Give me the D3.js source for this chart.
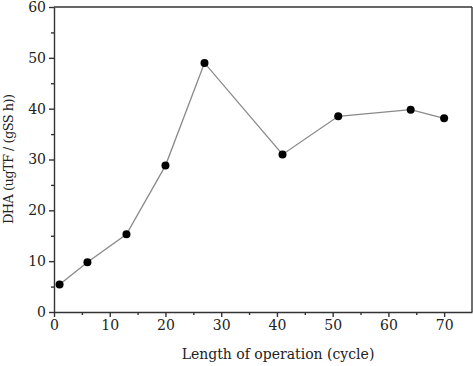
<!DOCTYPE html>
<html>
<head>
<meta charset="utf-8">
<script src="https://cdn.jsdelivr.net/npm/d3@7"></script>
<style>
  body { margin: 0; background: #fff; }
  text { font-family: "DejaVu Serif", serif; fill: #222; }
</style>
</head>
<body>
<div id="chart"></div>
<script>
// Data
const cycles = [1, 6, 13, 20, 27, 41, 51, 64, 70];
const dha = [5.4, 9.8, 15.3, 28.8, 49.0, 31.0, 38.5, 39.8, 38.1];
const xTicks = [0, 10, 20, 30, 40, 50, 60, 70];
const yTicks = [0, 10, 20, 30, 40, 50, 60];

const W = 473, H = 366;
const margin = { top: 7, right: 1, bottom: 54, left: 54 };
const width = W - margin.left - margin.right;
const height = H - margin.top - margin.bottom;

const svg = d3.select("#chart").append("svg")
    .attr("width", W).attr("height", H);
const g = svg.append("g")
    .attr("transform", `translate(${margin.left},${margin.top})`);

const x = d3.scaleLinear().domain([0, 75]).range([0, width]);
const y = d3.scaleLinear().domain([0, 60]).range([height, 0]);

// Minor ticks
const minorX = d3.range(5, 75, 10);
const minorY = d3.range(5, 60, 10);

g.append("g")
    .attr("transform", `translate(0,${height})`)
    .call(d3.axisBottom(x).tickValues(xTicks).tickSize(5).tickPadding(3).tickSizeOuter(0));
g.append("g")
    .attr("transform", `translate(0,${height})`)
    .call(d3.axisBottom(x).tickValues(minorX).tickSize(3).tickFormat("").tickSizeOuter(0))
    .select(".domain").remove();

g.append("g")
    .call(d3.axisLeft(y).tickValues(yTicks).tickSize(5).tickPadding(3).tickSizeOuter(0));
g.append("g")
    .call(d3.axisLeft(y).tickValues(minorY).tickSize(3).tickFormat("").tickSizeOuter(0))
    .select(".domain").remove();

g.selectAll(".domain, .tick line").attr("stroke", "#333").attr("stroke-width", 1.4);
g.selectAll(".tick text").style("font-size", "14px")
    .style("font-family", '"DejaVu Serif", serif').attr("fill", "#222");

// Top and right frame
g.append("line").attr("x1", 0).attr("x2", width).attr("y1", 0).attr("y2", 0)
    .attr("stroke", "#333").attr("stroke-width", 1.4);
g.append("line").attr("x1", width).attr("x2", width).attr("y1", 0).attr("y2", height)
    .attr("stroke", "#333").attr("stroke-width", 1.4);

// Line and points
const pts = cycles.map((c, i) => ({ c, v: dha[i] }));
g.append("path")
    .datum(pts)
    .attr("fill", "none")
    .attr("stroke", "#8a8a8a")
    .attr("stroke-width", 1.3)
    .attr("d", d3.line().x(d => x(d.c)).y(d => y(d.v)));

g.selectAll(".pt").data(pts).enter().append("circle")
    .attr("class", "pt")
    .attr("cx", d => x(d.c))
    .attr("cy", d => y(d.v))
    .attr("r", 4)
    .attr("fill", "#000");

// Axis labels
svg.append("text")
    .attr("x", 278)
    .attr("y", 359)
    .attr("text-anchor", "middle")
    .style("font-size", "14px")
    .text("Length of operation (cycle)");

svg.append("text")
    .attr("transform", `translate(13,159) rotate(-90)`)
    .attr("text-anchor", "middle")
    .style("font-size", "13px")
    .attr("textLength", 130)
    .text("DHA (ugTF / (gSS h))");
</script>
</body>
</html>
